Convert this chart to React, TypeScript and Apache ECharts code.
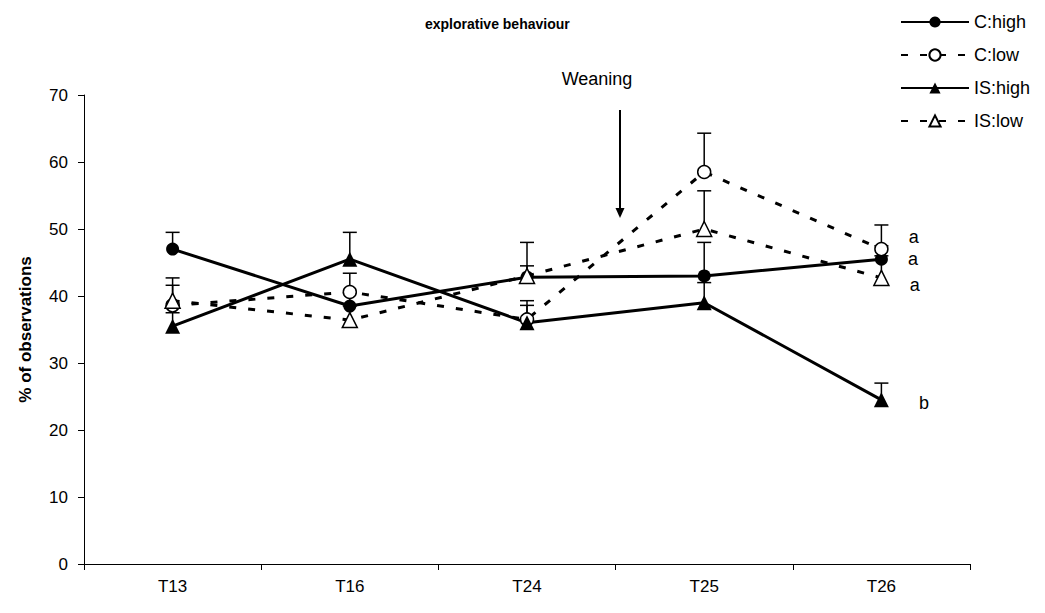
import React, { useEffect, useRef } from "react";
import * as echarts from "echarts";

const categories = ["T13", "T16", "T24", "T25", "T26"];
const seriesNames = ["C:high", "C:low", "IS:high", "IS:low"];
const cHigh = [47, 38.5, 42.8, 43, 45.5];
const cLow = [38.6, 40.6, 36.5, 58.5, 47];
const isHigh = [35.5, 45.5, 36, 39, 24.5];
const isLow = [39.3, 36.4, 43, 50, 42.7];
const cHighUpper = [49.5, 40.5, 44.5, 48, 47.5];
const cLowUpper = [41.6, 43.4, 39.3, 64.3, 50.6];
const isHighUpper = [37.5, 49.5, 38.6, 42, 27];
const isLowUpper = [42.7, 38.5, 48, 55.7, 46];
const endLetters = ["a", "a", "b", "a"];
const yTicks = [0, 10, 20, 30, 40, 50, 60, 70];

const FONT = "Liberation Sans, Arial, sans-serif";

export default function App() {
  const ref = useRef<HTMLDivElement>(null);
  useEffect(() => {
    if (!ref.current) return;
    const chart = echarts.init(ref.current, undefined, { renderer: "svg" });
    const values = [cHigh, cLow, isHigh, isLow];
    const uppers = [cHighUpper, cLowUpper, isHighUpper, isLowUpper];
    const solid = [true, false, true, false];
    const filled = [true, false, true, false];
    const symbols = ["circle", "circle", "triangle", "triangle"];
    const labelDy = [0, -12, 3, 7];
    const labelDist = [20, 20, 30, 20];

    const errData: number[][] = [];
    values.forEach((arr, s) => {
      arr.forEach((v, i) => errData.push([i, v, uppers[s][i]]));
    });

    const lineSeries = seriesNames.map((name, s) => {
      const last = values[s].length - 1;
      return {
        name,
        type: "line",
        z: 3,
        symbol: symbols[s],
        symbolSize: s >= 2 ? 15 : 13,
        showAllSymbol: true,
        lineStyle: {
          color: "#000",
          width: 3,
          type: solid[s] ? "solid" : [7, 12],
        },
        itemStyle: {
          color: filled[s] ? "#000" : "#fff",
          borderColor: "#000",
          borderWidth: filled[s] ? 0 : 1.5,
        },
        emphasis: { disabled: true },
        data: values[s].map((v, i) =>
          i === last
            ? {
                value: v,
                label: {
                  show: true,
                  formatter: endLetters[s],
                  position: "right",
                  distance: labelDist[s],
                  offset: [0, labelDy[s]],
                  color: "#000",
                  fontSize: 18,
                  fontFamily: FONT,
                },
              }
            : v
        ),
      };
    });

    chart.setOption({
      animation: false,
      backgroundColor: "#fff",
      title: {
        text: "explorative behaviour",
        left: 420,
        top: 12,
        textStyle: { fontSize: 14, fontWeight: "bold", color: "#000", fontFamily: FONT },
      },
      legend: {
        orient: "vertical",
        left: 895,
        top: 8,
        itemWidth: 68,
        itemHeight: 14,
        itemGap: 15,
        data: seriesNames,
        textStyle: { fontSize: 18, color: "#000", fontFamily: FONT },
      },
      grid: { left: 84, right: 75, top: 95, bottom: 49 },
      xAxis: {
        type: "category",
        data: categories,
        boundaryGap: true,
        axisLine: { lineStyle: { color: "#000", width: 1 } },
        axisTick: { show: true, alignWithLabel: false, length: 6, lineStyle: { color: "#000" } },
        axisLabel: { color: "#000", fontSize: 17, fontFamily: FONT, margin: 14 },
        splitLine: { show: false },
      },
      yAxis: {
        type: "value",
        min: yTicks[0],
        max: yTicks[yTicks.length - 1],
        interval: 10,
        name: "% of observations",
        nameLocation: "middle",
        nameGap: 50,
        nameTextStyle: { fontSize: 17, fontWeight: "bold", color: "#000", fontFamily: FONT },
        axisLine: { show: true, lineStyle: { color: "#000", width: 1 } },
        axisTick: { show: true, length: 6, lineStyle: { color: "#000" } },
        axisLabel: { color: "#000", fontSize: 17, fontFamily: FONT, margin: 16 },
        splitLine: { show: false },
      },
      graphic: [
        {
          type: "text",
          x: 597,
          y: 79,
          style: {
            text: "Weaning",
            fontSize: 18,
            fontFamily: FONT,
            fill: "#000",
            textAlign: "center",
            textVerticalAlign: "middle",
          },
        },
        {
          type: "line",
          shape: { x1: 620, y1: 110, x2: 620, y2: 210 },
          style: { stroke: "#000", lineWidth: 2 },
        },
        {
          type: "polygon",
          shape: { points: [[615.5, 208], [624.5, 208], [620, 218]] },
          style: { fill: "#000" },
        },
      ],
      series: [
        {
          type: "custom",
          z: 1,
          silent: true,
          renderItem: (params: any, api: any) => {
            const x = api.value(0);
            const lo = api.coord([x, api.value(1)]);
            const hi = api.coord([x, api.value(2)]);
            return {
              type: "group",
              children: [
                {
                  type: "line",
                  shape: { x1: lo[0], y1: lo[1], x2: hi[0], y2: hi[1] },
                  style: { stroke: "#000", lineWidth: 1.5 },
                },
                {
                  type: "line",
                  shape: { x1: hi[0] - 7, y1: hi[1], x2: hi[0] + 7, y2: hi[1] },
                  style: { stroke: "#000", lineWidth: 1.5 },
                },
              ],
            };
          },
          encode: { x: 0, y: [1, 2] },
          data: errData,
        },
        ...lineSeries,
      ],
    });
    return () => chart.dispose();
  }, []);
  return <div ref={ref} style={{ width: 1045, height: 613, margin: -8 }} />;
}
